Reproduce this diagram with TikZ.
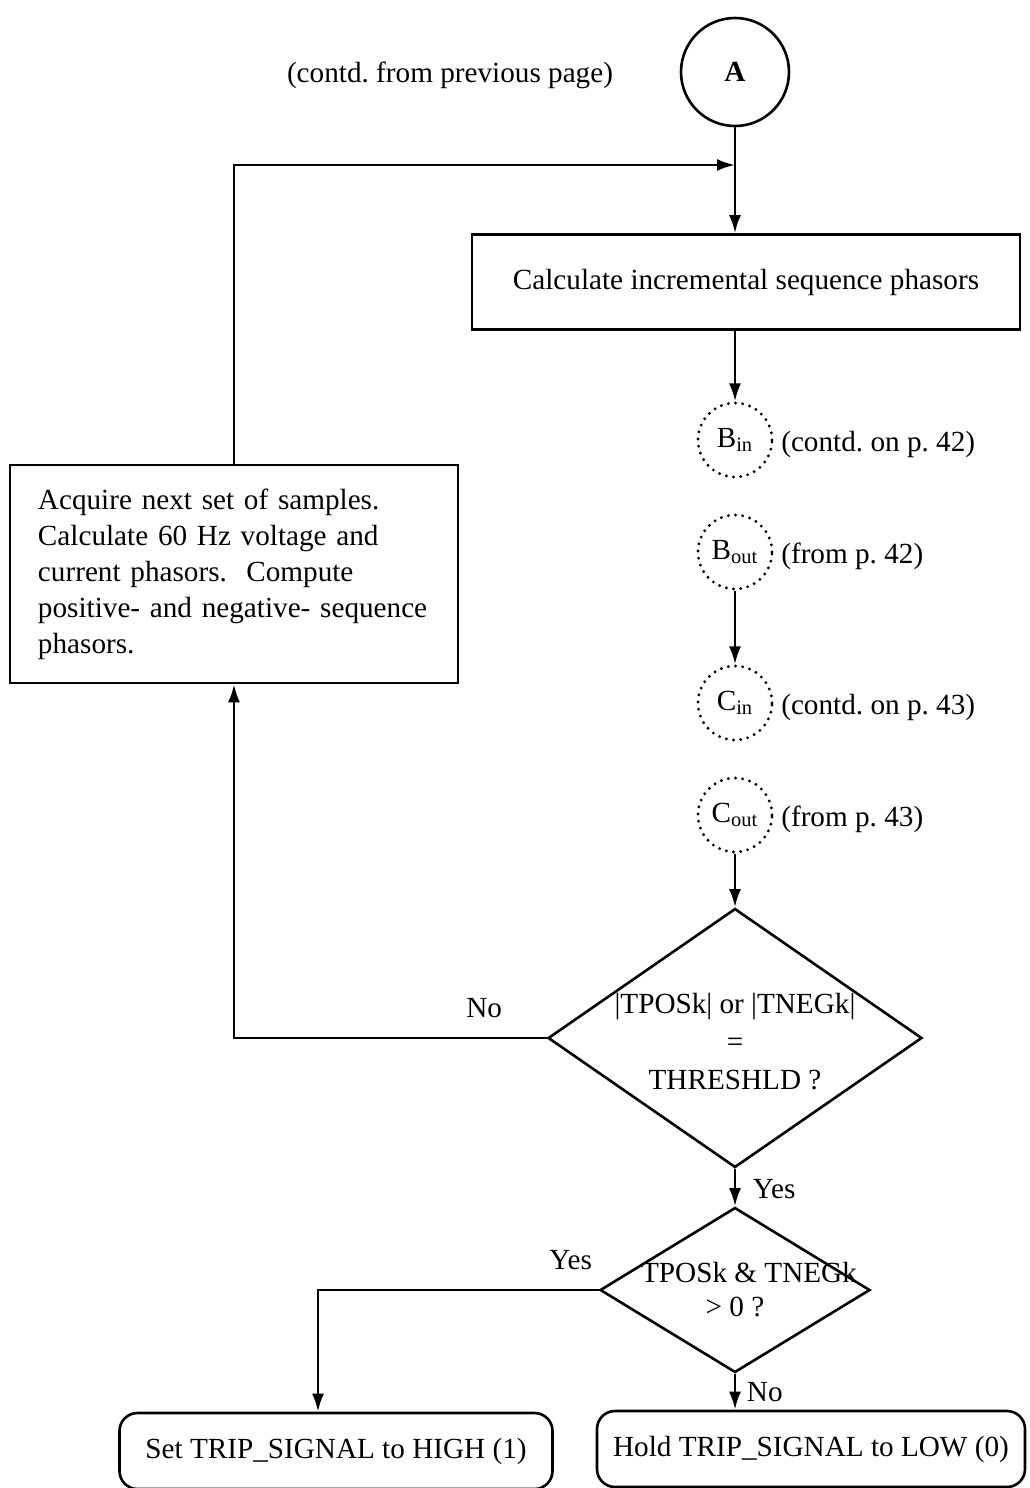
\documentclass[tikz,border=0pt]{standalone}
\usepackage{fontspec}
\setmainfont{Liberation Serif}
\usetikzlibrary{positioning,arrows.meta,shapes.geometric}
\frenchspacing

\begin{document}
\begin{tikzpicture}[x=0.5pt,y=-0.5pt,>={Latex[length=9pt,width=6pt]},line width=1.3pt,
  font=\fontsize{14.6}{18}\selectfont,
  proc/.style={draw,rectangle,inner sep=0pt},
  term/.style={draw,rectangle,rounded corners=9pt,inner sep=0pt},
  conn/.style={draw,circle,inner sep=0pt,minimum size=54pt},
  offpage/.style={draw,circle,inner sep=0pt,minimum size=37pt,line width=1.6pt,
    line cap=round,dash pattern=on 0pt off 3.6pt},
  decide/.style={draw,diamond,align=center,inner sep=-7pt},
  note/.style={anchor=west,inner sep=0pt}]
  \useasboundingbox (0,0) rectangle (1029,1488);
  % page connector and loop entry
  \node (prev) at (450,75) {(contd. from previous page)};
  \node[conn] (a) at (735,72) {\textbf{A}};
  \coordinate (join) at (735,165);
  \node[proc,minimum width=274pt,minimum height=47.5pt] (calc) at (746,282)
    {Calculate incremental sequence phasors};
  % off-page connectors
  \node[offpage] (bin) at (735,440) {B\textsubscript{in}};
  \node[note] (binl) at (780,444) {(contd. on p. 42)};
  \node[offpage] (bout) at (735,552) {B\textsubscript{out}};
  \node[note] (boutl) at (780,556) {(from p. 42)};
  \node[offpage] (cin) at (735,703) {C\textsubscript{in}};
  \node[note] (cinl) at (780,707) {(contd. on p. 43)};
  \node[offpage] (cout) at (735,815) {C\textsubscript{out}};
  \node[note] (coutl) at (780,819) {(from p. 43)};
  % decisions
  \node[decide,aspect=1.44,minimum width=187pt,minimum height=129.5pt,
    font=\fontsize{14.6}{19}\selectfont] (thr) at (735,1038)
    {\rule{0pt}{14pt}|TPOSk| or |TNEGk|\\=\\THRESHLD ?};
  \node[decide,aspect=1.64,minimum width=135pt,minimum height=82.5pt,
    font=\fontsize{14.6}{15}\selectfont] (sgn) at (735,1290)
    {\hspace*{14pt}TPOSk \& TNEGk\\[2pt]> 0 ?};
  % loop back box
  \node[proc,minimum width=224pt,minimum height=109pt,text width=196pt,align=left]
    (acq) at (234,574)
    {Acquire next set of samples.\\Calculate 60 Hz voltage and\\current phasors.\ \ Compute\\
     positive- and negative- sequence\\phasors.};
  % outputs
  \node[term,minimum width=216.5pt,minimum height=38pt] (trip) at (336,1451)
    {Set TRIP\_SIGNAL to HIGH (1)};
  \node[term,minimum width=214pt,minimum height=38pt] (hold) at (811,1449)
    {Hold TRIP\_SIGNAL to LOW (0)};
  \coordinate (tripin) at ([xshift=-9pt]trip.north);

  \draw (a) -- (join);
  \draw[->] (join) -- (join |- calc.north);
  \draw[->] (calc.south -| bin) -- (bin);
  \draw[->] (bout) -- (cin);
  \draw[->] (cout) -- (thr);
  \draw[->] (thr) -- node (yes1)[right=5pt,pos=0.55] {Yes} (sgn);
  \draw[->] (thr.west) -- node (no1)[above,pos=0.2,yshift=6pt] {No} (thr.west -| acq.south) -- (acq.south);
  \draw[->] (acq.north) |- (join);
  \draw[->] (sgn.west) -- node (yes2)[above,pos=0.1,yshift=6pt] {Yes} (sgn.west -| tripin) -- (tripin);
  \draw[->] (sgn.south) -- node (no2)[right=2pt] {No} (sgn.south |- hold.north);
\end{tikzpicture}
\end{document}
